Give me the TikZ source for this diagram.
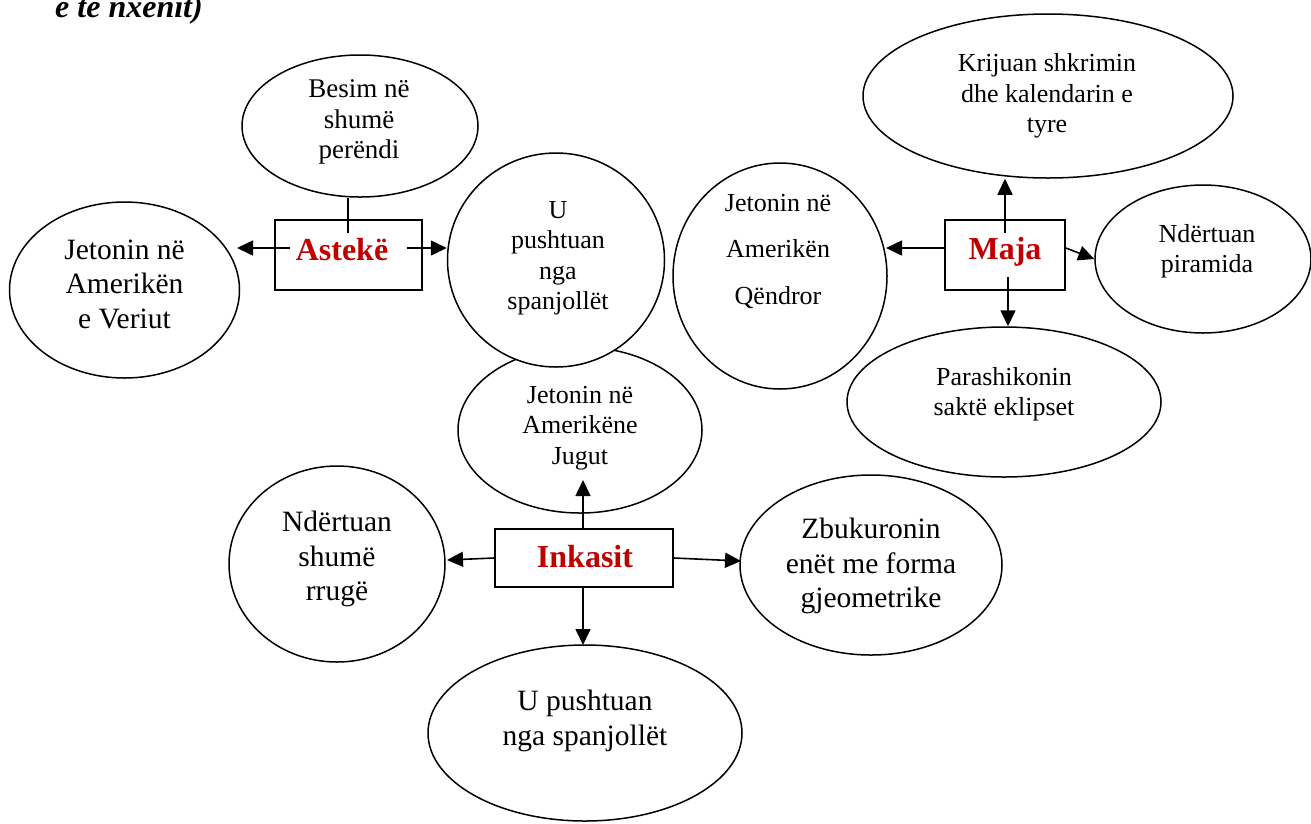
\documentclass[tikz,border=0pt]{standalone}
\usepackage{fontspec}
\setmainfont{Liberation Serif}
\usetikzlibrary{arrows.meta,shapes.geometric,calc}
\definecolor{lbl}{HTML}{C00000}
\begin{document}
\begin{tikzpicture}[x=1pt,y=-1pt,
  ell/.style={draw, ellipse, line width=1.5pt, fill=white, inner sep=0pt},
  sm/.style={align=center, font=\fontsize{26}{30.5}\selectfont, inner sep=0pt},
  lg/.style={align=center, font=\fontsize{29.5}{34.5}\selectfont, inner sep=0pt},
  hub/.style={draw, line width=1.8pt, fill=white, inner sep=0pt},
  hubtxt/.style={text=lbl, font=\fontsize{32}{36}\selectfont\bfseries, inner sep=0pt},
  arr/.style={line width=1.6pt, -{Triangle[length=16pt,width=15pt]}},
  ln/.style={line width=1.6pt}]
\useasboundingbox (0,0) rectangle (1311,823);

% header (cut at top)
\node[anchor=base west, inner sep=0pt, font=\fontsize{32}{36}\selectfont\bfseries\itshape] (hdr) at (55,17) {e te nxenit)};

% ---- ellipses ----
\node[ell, minimum width=236pt, minimum height=142pt] (besim) at (360,126) {};
\node[sm, font=\fontsize{27}{30.5}\selectfont] (besimT) at (359,122) {Besim në\\shumë\\perëndi};

\node[ell, minimum width=230pt, minimum height=176pt] (veriut) at (124.5,290) {};
\node[lg] (veriutT) at (124.5,284) {Jetonin në\\Amerikën\\e Veriut};

\node[ell, minimum width=244pt, minimum height=166pt] (jugut) at (580,430) {};
\node[sm] (jugutT) at (580,428) {Jetonin në\\Amerikëne\\Jugut};

\node[ell, minimum width=217pt, minimum height=214pt] (upush) at (556,260) {};
\node[sm] (upushT) at (558,258) {U\\pushtuan\\nga\\spanjollët};

\node[ell, minimum width=214pt, minimum height=226pt] (qendror) at (780,276) {};
\node[sm, font=\fontsize{26}{46.5}\selectfont] (qendrorT) at (778,251) {Jetonin në\\Amerikën\\Qëndror};

\node[ell, minimum width=370pt, minimum height=164pt] (krijuan) at (1048,96) {};
\node[sm] (krijuanT) at (1047,96) {Krijuan shkrimin\\dhe kalendarin e\\tyre};

\node[ell, minimum width=216pt, minimum height=148pt] (piram) at (1203,259) {};
\node[sm] (piramT) at (1207,251) {Ndërtuan\\piramida};

\node[ell, minimum width=314pt, minimum height=150pt] (parash) at (1004,402) {};
\node[sm] (parashT) at (1004,394) {Parashikonin\\saktë eklipset};

\node[ell, minimum width=216pt, minimum height=196pt] (rruge) at (337,564) {};
\node[lg] (rrugeT) at (337,559) {Ndërtuan\\shumë\\rrugë};

\node[ell, minimum width=262pt, minimum height=180pt] (zbuk) at (871,565) {};
\node[lg] (zbukT) at (871,566) {Zbukuronin\\enët me forma\\gjeometrike};

\node[ell, minimum width=314pt, minimum height=176pt] (upush2) at (585,733) {};
\node[lg] (upush2T) at (585,721) {U pushtuan\\nga spanjollët};

% ---- hubs ----
\node[hub, minimum width=147pt, minimum height=70pt] (asteke) at (348.5,255) {};
\node[hubtxt] (asteketxt) at (342,250) {Astekë};

\node[hub, minimum width=120pt, minimum height=70pt] (maja) at (1005,255) {};
\node[hubtxt] (majatxt) at (1005,252) {Maja};

\node[hub, minimum width=178pt, minimum height=58pt] (inka) at (584,558) {};
\node[hubtxt] (inkatxt) at (585,557) {Inkasit};

% ---- connectors: Astekë ----
\coordinate (aLs) at (290,248);
\coordinate (aL) at (237,248);
\draw[arr] (aLs) -- (aL);
\coordinate (aRs) at (407,248);
\draw[arr] (aRs) -- (aRs -| upush.west);
\coordinate (bl) at (348,233);
\draw[ln] (bl) -- (bl |- besim.south);

% ---- connectors: Maja ----
\coordinate (mU) at (1005,233);
\draw[arr] (mU) -- (mU |- krijuan.south);
\coordinate (mL) at (886,248);
\draw[arr] (maja.west |- mL) -- (mL);
\draw[arr] (maja.east |- mL) -- (piram.west);
\coordinate (md) at (1008,277);
\draw[arr] (md) -- (md |- parash.north);

% ---- connectors: Inkasit ----
\coordinate (iU) at (583,480);
\draw[arr] (inka.north -| iU) -- (iU);
\coordinate (iL) at (447,560);
\draw[arr] (inka.west |- 0,558) -- (iL);
\coordinate (iR) at (741,561);
\draw[arr] (inka.east |- 0,558) -- (iR);
\coordinate (iD) at (583,645);
\draw[arr] (inka.south -| iU) -- (iD);
\end{tikzpicture}
\end{document}
